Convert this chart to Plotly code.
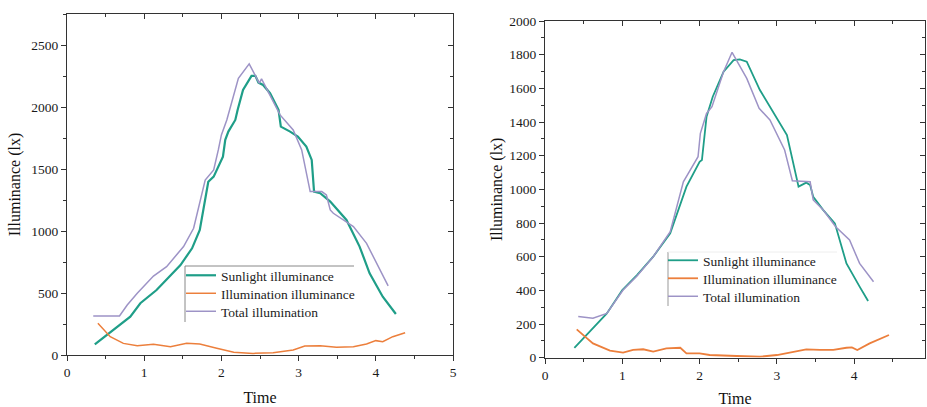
import plotly.graph_objects as go

# ---- Left panel data ----
L_sun_x = [0.36, 0.69, 0.82, 0.95, 1.16, 1.47, 1.62, 1.72, 1.83, 1.90, 1.98, 2.02, 2.05, 2.09, 2.18, 2.21, 2.28, 2.39, 2.44, 2.48, 2.54, 2.63, 2.74, 2.77, 2.89, 2.99, 3.10, 3.17, 3.20, 3.28, 3.41, 3.62, 3.79, 3.92, 4.09, 4.26]
L_sun_y = [86, 242, 310, 418, 525, 727, 862, 1010, 1400, 1441, 1549, 1603, 1738, 1805, 1899, 1980, 2142, 2255, 2255, 2201, 2182, 2115, 1980, 1845, 1805, 1765, 1684, 1576, 1320, 1307, 1239, 1091, 876, 660, 471, 331]

L_ill_x = [0.40, 0.56, 0.73, 0.91, 1.12, 1.34, 1.55, 1.72, 1.94, 2.16, 2.41, 2.67, 2.93, 3.08, 3.28, 3.49, 3.71, 3.88, 4.00, 4.09, 4.22, 4.38]
L_ill_y = [256, 148, 94, 75, 86, 67, 94, 89, 54, 22, 13, 19, 40, 73, 75, 62, 67, 89, 116, 108, 148, 180]

L_tot_x = [0.34, 0.68, 0.78, 0.91, 1.12, 1.29, 1.51, 1.64, 1.79, 1.90, 1.96, 2.00, 2.07, 2.22, 2.36, 2.44, 2.49, 2.52, 2.56, 2.76, 2.93, 3.04, 3.15, 3.30, 3.36, 3.41, 3.45, 3.71, 3.88, 4.16]
L_tot_y = [315, 315, 404, 498, 638, 714, 876, 1024, 1414, 1495, 1657, 1778, 1899, 2236, 2352, 2263, 2196, 2231, 2182, 1940, 1818, 1657, 1320, 1320, 1293, 1172, 1145, 1037, 902, 558]

# ---- Right panel data ----
R_sun_x = [0.38, 0.58, 0.80, 1.00, 1.19, 1.40, 1.62, 1.83, 2.00, 2.03, 2.09, 2.17, 2.31, 2.44, 2.52, 2.61, 2.78, 3.13, 3.28, 3.38, 3.43, 3.47, 3.60, 3.75, 3.90, 4.07, 4.18]
R_sun_y = [59, 158, 263, 402, 491, 600, 739, 1016, 1164, 1174, 1432, 1550, 1699, 1768, 1772, 1758, 1590, 1323, 1016, 1040, 1026, 956, 877, 798, 560, 422, 337]

R_ill_x = [0.41, 0.62, 0.84, 1.01, 1.14, 1.27, 1.40, 1.57, 1.75, 1.83, 2.00, 2.13, 2.48, 2.78, 3.00, 3.21, 3.38, 3.56, 3.73, 3.90, 3.97, 4.04, 4.20, 4.45]
R_ill_y = [168, 85, 42, 30, 46, 50, 36, 55, 59, 26, 26, 16, 10, 6, 16, 36, 50, 46, 46, 59, 61, 46, 85, 135]

R_tot_x = [0.43, 0.62, 0.80, 1.01, 1.19, 1.40, 1.62, 1.79, 1.98, 2.01, 2.09, 2.16, 2.31, 2.42, 2.61, 2.77, 2.91, 3.10, 3.20, 3.43, 3.47, 3.60, 3.76, 3.94, 4.07, 4.25]
R_tot_y = [244, 234, 263, 402, 485, 600, 748, 1045, 1194, 1333, 1451, 1491, 1699, 1814, 1659, 1481, 1412, 1234, 1051, 1045, 937, 877, 778, 699, 560, 451]

names = ["Sunlight illuminance", "Illumination illuminance", "Total illumination"]
colors = ["#1f9e88", "#ec7f3c", "#9d93c6"]

L_xrange = [0, 5]
L_yrange = [0, 2755]
R_xrange = [0, 4.916]
R_yrange = [0, 2000]

W, H = 927, 407
FONT = "Liberation Serif, Times New Roman, serif"

L_legends = ["legend", "legend3", "legend4"]
R_legends = ["legend2", "legend5", "legend6"]

fig = go.Figure()

for (xs, ys), nm, c, w, lg in zip([(L_sun_x, L_sun_y), (L_ill_x, L_ill_y), (L_tot_x, L_tot_y)], names, colors, [2.2, 1.5, 1.5], L_legends):
    fig.add_trace(go.Scatter(x=xs, y=ys, mode="lines", name=nm, line=dict(color=c, width=w),
                             xaxis="x", yaxis="y", legend=lg))
for (xs, ys), nm, c, w, lg in zip([(R_sun_x, R_sun_y), (R_ill_x, R_ill_y), (R_tot_x, R_tot_y)], names, colors, [1.8, 1.8, 1.5], R_legends):
    fig.add_trace(go.Scatter(x=xs, y=ys, mode="lines", name=nm, line=dict(color=c, width=w),
                             xaxis="x2", yaxis="y2", legend=lg))

# invisible anchor traces so the mirrored (inside-tick) axes get drawn
fig.add_trace(go.Scatter(x=[L_xrange[0]], y=[L_yrange[0]], mode="markers", marker=dict(opacity=0),
                         xaxis="x3", yaxis="y3", showlegend=False, hoverinfo="skip"))
fig.add_trace(go.Scatter(x=[R_xrange[0]], y=[R_yrange[0]], mode="markers", marker=dict(opacity=0),
                         xaxis="x4", yaxis="y4", showlegend=False, hoverinfo="skip"))


def px(v):
    return v / W


def py(v):
    return 1 - v / H


tickfont = dict(family=FONT, size=13.5, color="#1a1a1a")
titlefont = dict(family=FONT, size=16, color="#111")

common = dict(showgrid=False, zeroline=False, showline=True, linecolor="#333", linewidth=1,
              tickfont=tickfont, ticklen=5, tickcolor="#333", automargin=False)
mir = dict(showticklabels=False, showgrid=False, zeroline=False, showline=True, linecolor="#333",
           linewidth=1, ticks="inside", ticklen=5, tickcolor="#333", automargin=False)

Lx0, Lx1, Ly0, Ly1 = 67, 453, 355, 14
Rx0, Rx1, Ry0, Ry1 = 545, 925, 357.7, 21


def leg(x, ytop):
    return dict(x=px(x), y=py(ytop), xanchor="left", yanchor="top", bgcolor="rgba(0,0,0,0)",
                font=dict(family=FONT, size=13.5, color="#222"), itemwidth=30, borderwidth=0)


fig.update_layout(
    width=W, height=H, margin=dict(l=0, r=0, t=0, b=0, autoexpand=False),
    paper_bgcolor="white", plot_bgcolor="white",
    font=dict(family=FONT),
    xaxis=dict(domain=[px(Lx0), px(Lx1)], range=L_xrange, dtick=1, ticks="outside",
               minor=dict(dtick=0.5, ticks="outside", ticklen=3, tickcolor="#333"),
               title=dict(text="Time", font=titlefont, standoff=12), anchor="y", **common),
    yaxis=dict(domain=[py(Ly0), py(Ly1)], range=L_yrange, dtick=500, ticks="outside",
               minor=dict(dtick=250, ticks="outside", ticklen=3, tickcolor="#333"),
               title=dict(text="Illuminance (lx)", font=titlefont, standoff=6), anchor="x", **common),
    xaxis2=dict(domain=[px(Rx0), px(Rx1)], range=R_xrange, dtick=1, ticks="outside",
                minor=dict(dtick=0.5, ticks="outside", ticklen=3, tickcolor="#333"),
                title=dict(text="Time", font=titlefont, standoff=12), anchor="y2", **common),
    yaxis2=dict(domain=[py(Ry0), py(Ry1)], range=R_yrange, dtick=200, ticks="outside",
                minor=dict(dtick=100, ticks="outside", ticklen=3, tickcolor="#333"),
                title=dict(text="Illuminance (lx)", font=titlefont, standoff=2), anchor="x2", **common),
    xaxis3=dict(overlaying="x", side="top", range=L_xrange, dtick=1, anchor="y3",
                minor=dict(dtick=0.5, ticks="inside", ticklen=3, tickcolor="#333"), **mir),
    yaxis3=dict(overlaying="y", side="right", range=L_yrange, dtick=500, anchor="x3",
                minor=dict(dtick=250, ticks="inside", ticklen=3, tickcolor="#333"), **mir),
    xaxis4=dict(overlaying="x2", side="top", range=R_xrange, dtick=1, anchor="y4",
                minor=dict(dtick=0.5, ticks="inside", ticklen=3, tickcolor="#333"), **mir),
    yaxis4=dict(overlaying="y2", side="right", range=R_yrange, dtick=200, anchor="x4",
                minor=dict(dtick=100, ticks="inside", ticklen=3, tickcolor="#333"), **mir),
    legend=leg(181, 260),
    legend3=leg(181, 278),
    legend4=leg(181, 296),
    legend2=leg(663, 245),
    legend5=leg(663, 263),
    legend6=leg(663, 281),
    showlegend=True,
    shapes=[
        dict(type="line", xref="paper", yref="paper", x0=px(185), x1=px(354), y0=py(266), y1=py(266),
             line=dict(color="#888", width=1)),
        dict(type="line", xref="paper", yref="paper", x0=px(185), x1=px(185), y0=py(266), y1=py(322),
             line=dict(color="#888", width=1)),
        dict(type="line", xref="paper", yref="paper", x0=px(668), x1=px(668), y0=py(252), y1=py(306),
             line=dict(color="#999", width=1)),
        dict(type="line", xref="paper", yref="paper", x0=px(668), x1=px(837), y0=py(252), y1=py(252),
             line=dict(color="#eee", width=1)),
    ],
)

fig.write_html("out.html", config={"displayModeBar": False},
               post_script="document.body.style.margin='0';document.body.style.overflow='hidden';")
